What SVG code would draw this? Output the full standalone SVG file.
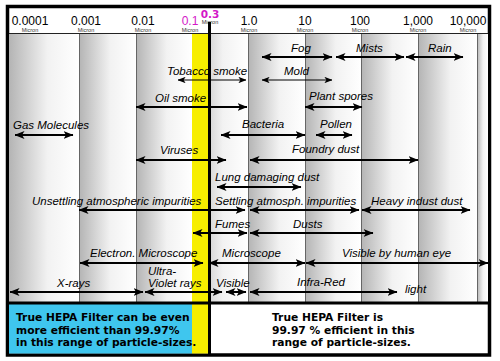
<svg xmlns="http://www.w3.org/2000/svg" width="500" height="361" viewBox="0 0 500 361">
<defs>
<linearGradient id="col" x1="0" y1="0" x2="1" y2="0">
<stop offset="0" stop-color="#b4b4b4"/>
<stop offset="0.55" stop-color="#f2f2f2"/>
<stop offset="1" stop-color="#ffffff"/>
</linearGradient>
<marker id="ah" viewBox="0 0 10 8" markerUnits="userSpaceOnUse" markerWidth="10" markerHeight="8" refX="9.5" refY="4" orient="auto-start-reverse">
<path d="M0,0 L10,4 L0,8 L2.5,4 Z" fill="#000"/>
</marker>
<marker id="ahs" viewBox="0 0 10 8" markerUnits="userSpaceOnUse" markerWidth="8" markerHeight="6.4" refX="9.5" refY="4" orient="auto-start-reverse">
<path d="M0,0 L10,4 L0,8 L2.5,4 Z" fill="#000"/>
</marker>
</defs>
<style>
.num{font-family:"Liberation Sans",Arial,sans-serif;font-size:12px;fill:#000;text-anchor:middle}
.mic{font-family:"Liberation Sans",Arial,sans-serif;font-size:5.5px;fill:#333;text-anchor:middle}
.mag{fill:#d418c8}
.l{font-family:"Liberation Sans",Arial,sans-serif;font-style:italic;font-size:11.5px;fill:#000}
.a{stroke:#000;stroke-width:2;marker-start:url(#ah);marker-end:url(#ah)}
.t{stroke:#000;stroke-width:1.2;marker-start:url(#ahs);marker-end:url(#ahs)}
.b{font-family:"DejaVu Sans",Verdana,sans-serif;font-weight:bold;font-size:10.7px;fill:#000}
.bl{stroke:#666;stroke-width:1}
</style>
<rect x="7.5" y="6.5" width="482" height="348.5" fill="#fff" stroke="#000" stroke-width="3.5"/>
<g id="columns">
<rect x="9" y="34" width="70" height="268" fill="url(#col)"/>
<rect x="79" y="34" width="57" height="268" fill="url(#col)"/>
<rect x="136" y="34" width="56" height="268" fill="url(#col)"/>
<rect x="192" y="34" width="56" height="268" fill="url(#col)"/>
<rect x="248" y="34" width="57" height="268" fill="url(#col)"/>
<rect x="305" y="34" width="56" height="268" fill="url(#col)"/>
<rect x="361" y="34" width="57" height="268" fill="url(#col)"/>
<rect x="418" y="34" width="59" height="268" fill="url(#col)"/>
<rect x="477" y="34" width="11" height="268" fill="url(#col)"/>
<line class="bl" x1="79.5" y1="34" x2="79.5" y2="302"/>
<line class="bl" x1="136.5" y1="34" x2="136.5" y2="302"/>
<line class="bl" x1="248.5" y1="34" x2="248.5" y2="302"/>
<line class="bl" x1="305.5" y1="34" x2="305.5" y2="302"/>
<line class="bl" x1="361.5" y1="34" x2="361.5" y2="302"/>
<line class="bl" x1="418.5" y1="34" x2="418.5" y2="302"/>
<line class="bl" x1="477.5" y1="34" x2="477.5" y2="302"/>
<line x1="9" y1="33.5" x2="488" y2="33.5" stroke="#222" stroke-width="1"/>
</g>
<g id="bottom-boxes">
<rect id="box-left" x="9" y="304" width="183" height="49.5" fill="#3fc6ee"/>
<rect x="192" y="34" width="17" height="319.5" fill="#f7ee00"/>
<line x1="9" y1="303" x2="488" y2="303" stroke="#000" stroke-width="3"/>
</g>
<g id="header">
<text class="num" x="30" y="24.5">0.0001</text><text class="mic" x="30" y="32">Micron</text>
<text class="num" x="86" y="24.5">0.001</text><text class="mic" x="86" y="32">Micron</text>
<text class="num" x="143" y="24.5">0.01</text><text class="mic" x="143" y="32">Micron</text>
<text class="num mag" x="190" y="24.5">0.1</text><text class="mic" x="190" y="32">Micron</text>
<text class="mag" x="210" y="17.5" text-anchor="middle" font-family="DejaVu Sans,Verdana,sans-serif" font-weight="bold" font-size="10.5">0.3</text>
<text class="mic" x="210" y="24">Micron</text>
<text class="num" x="249" y="24.5">1.0</text><text class="mic" x="249" y="32">Micron</text>
<text class="num" x="305" y="24.5">10</text><text class="mic" x="305" y="32">Micron</text>
<text class="num" x="360" y="24.5">100</text><text class="mic" x="360" y="32">Micron</text>
<text class="num" x="418" y="24.5">1,000</text><text class="mic" x="418" y="32">Micron</text>
<text class="num" x="468" y="24.5">10,000</text><text class="mic" x="468" y="32">Micron</text>
</g>
<g id="fog"><text class="l" x="291" y="52">Fog</text></g>
<g id="mists"><text class="l" x="356" y="52">Mists</text></g>
<g id="rain"><text class="l" x="428" y="52">Rain</text></g>
<g id="tobacco"><text class="l" x="167" y="75">Tobacco smoke</text></g>
<g id="mold"><text class="l" x="284" y="75">Mold</text></g>
<g id="oil"><text class="l" x="155" y="102">Oil smoke</text></g>
<g id="plant"><text class="l" x="309" y="100">Plant spores</text></g>
<g id="gas"><text class="l" x="13" y="129">Gas Molecules</text></g>
<g id="bacteria"><text class="l" x="242" y="128">Bacteria</text></g>
<g id="pollen"><text class="l" x="320" y="128">Pollen</text></g>
<g id="viruses"><text class="l" x="160" y="154">Viruses</text></g>
<g id="foundry"><text class="l" x="292" y="153">Foundry dust</text></g>
<g id="lung"><text class="l" x="215" y="181">Lung damaging dust</text></g>
<g id="unsettling"><text class="l" x="32" y="205">Unsettling atmospheric impurities</text></g>
<g id="settling"><text class="l" x="215" y="205">Settling atmosph. impurities</text></g>
<g id="heavy"><text class="l" x="371" y="205">Heavy indust dust</text></g>
<g id="fumes"><text class="l" x="215" y="228">Fumes</text></g>
<g id="dusts"><text class="l" x="293" y="228">Dusts</text></g>
<g id="electron"><text class="l" x="90" y="257">Electron. Microscope</text></g>
<g id="microscope"><text class="l" x="222" y="257">Microscope</text></g>
<g id="eye"><text class="l" x="342" y="257">Visible by human eye</text></g>
<g id="uv"><text class="l" x="148" y="275" font-size="10.5">Ultra-<tspan x="148" dy="12">Violet rays</tspan></text></g>
<g id="xrays"><text class="l" x="57" y="287">X-rays</text></g>
<g id="visible"><text class="l" x="216" y="287">Visible</text></g>
<g id="infrared"><text class="l" x="297" y="286">Infra-Red</text></g>
<g id="light"><text class="l" x="405" y="293">light</text></g>
<g id="connectors">
<line class="a" x1="262" y1="57" x2="332" y2="57"/>
<line class="a" x1="336" y1="57" x2="404" y2="57"/>
<line class="a" x1="406" y1="57" x2="463" y2="57"/>
<line class="t" x1="178" y1="80" x2="246" y2="80"/>
<line class="t" x1="262" y1="80" x2="332" y2="80"/>
<line class="a" x1="136" y1="107" x2="247" y2="107"/>
<line class="a" x1="305" y1="107" x2="362" y2="107"/>
<line class="a" x1="15" y1="135" x2="73" y2="135"/>
<line class="a" x1="221" y1="135" x2="305" y2="135"/>
<line class="a" x1="316" y1="135" x2="352" y2="135"/>
<line class="a" x1="136" y1="160" x2="226" y2="160"/>
<line class="a" x1="250" y1="160" x2="418" y2="160"/>
<line class="a" x1="217" y1="187" x2="301" y2="187"/>
<line class="a" x1="79" y1="210" x2="245" y2="210"/>
<line class="a" x1="250" y1="210" x2="359" y2="210"/>
<line class="a" x1="362" y1="210" x2="470" y2="210"/>
<line class="a" x1="193" y1="233" x2="247" y2="233"/>
<line class="a" x1="250" y1="233" x2="373" y2="233"/>
<line class="a" x1="80" y1="263" x2="203" y2="263"/>
<line class="a" x1="209" y1="263" x2="305" y2="263"/>
<line class="a" x1="306" y1="263" x2="488" y2="263"/>
<line class="a" x1="10" y1="292" x2="143" y2="292"/>
<line class="a" x1="145" y1="292" x2="222" y2="292"/>
<line class="a" x1="226" y1="292" x2="246" y2="292"/>
<line class="a" x1="250" y1="292" x2="397" y2="292"/>
</g>
<line id="hepa-line" x1="209.5" y1="22" x2="209.5" y2="354" stroke="#000" stroke-width="3"/>
<g id="hepa-left">
<text class="b" x="16" y="321">True HEPA Filter can be even</text>
<text class="b" x="16" y="334">more efficient than 99.97%</text>
<text class="b" x="16" y="346">in this range of particle-sizes.</text>
</g>
<g id="hepa-right">
<text class="b" x="272" y="321">True HEPA Filter is</text>
<text class="b" x="272" y="334">99.97 % efficient in this</text>
<text class="b" x="272" y="346">range of particle-sizes.</text>
</g>
</svg>
